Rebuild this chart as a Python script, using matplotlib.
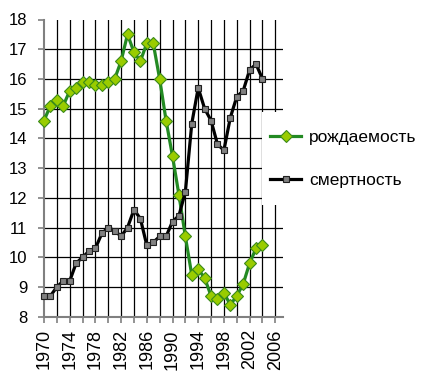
import matplotlib
matplotlib.use("Agg")
import matplotlib.pyplot as plt
from matplotlib.patches import Rectangle

years = list(range(1970, 2005))
birth = [14.6, 15.1, 15.3, 15.1, 15.6, 15.7, 15.9, 15.9, 15.8, 15.8, 15.9, 16.0,
         16.6, 17.5, 16.9, 16.6, 17.2, 17.2, 16.0, 14.6, 13.4, 12.1, 10.7, 9.4,
         9.6, 9.3, 8.7, 8.6, 8.8, 8.4, 8.7, 9.1, 9.8, 10.3, 10.4]
death = [8.7, 8.7, 9.0, 9.2, 9.2, 9.8, 10.0, 10.2, 10.3, 10.8, 11.0, 10.9,
         10.7, 11.0, 11.6, 11.3, 10.4, 10.5, 10.7, 10.7, 11.2, 11.4, 12.2, 14.5,
         15.7, 15.0, 14.6, 13.8, 13.6, 14.7, 15.4, 15.6, 16.3, 16.5, 16.0]
birth_label = "рождаемость"
death_label = "смертность"
xticks = list(range(1970, 2007, 2))
xlabel_years = list(range(1970, 2007, 4))
yticks = list(range(8, 19))

plt.rcParams['font.family'] = ['Liberation Sans', 'DejaVu Sans']

W, H = 440, 378
fig = plt.figure(figsize=(W / 100, H / 100), dpi=100)
ax = fig.add_axes([44 / W, 1 - 316.7 / H, (282.7 - 44) / W, (316.7 - 19.5) / H])

ax.set_xlim(1970, 2007.15)
ax.set_ylim(8, 18)

# grid
for x in xticks[1:]:
    ax.axvline(x, color='black', lw=0.9, zorder=1)
for y in yticks[1:-1]:
    ax.axhline(y, color='black', lw=0.9, zorder=1)

ax.plot(years, birth, color='#238a23', lw=2.3, marker='D', markersize=6,
        markerfacecolor='#99cc00', markeredgecolor='#3a8a1a', markeredgewidth=0.8,
        label=birth_label, zorder=3, clip_on=False)
ax.plot(years, death, color='black', lw=2.3, marker='s', markersize=5,
        markerfacecolor='#808080', markeredgecolor='#202020', markeredgewidth=0.8,
        label=death_label, zorder=4, clip_on=False)

for s in ['top', 'right']:
    ax.spines[s].set_visible(False)
for s in ['left', 'bottom']:
    ax.spines[s].set_color('#808080')
    ax.spines[s].set_linewidth(1.5)

ax.set_xticks(xticks)
ax.set_xticklabels([str(x) if x in xlabel_years else '' for x in xticks],
                   rotation=90, fontsize=13)
ax.set_yticks(yticks)
ax.set_yticklabels([str(y) for y in yticks], fontsize=12)
ax.tick_params(axis='x', direction='out', length=4, width=1.2, color='#808080', pad=5)
ax.tick_params(axis='y', direction='out', length=4, width=1.2, color='#808080', pad=8)

# white legend box over the plot area
rect = Rectangle((262 / W, 1 - 205 / H), (W - 262) / W, (205 - 112) / H,
                 transform=fig.transFigure, facecolor='white', edgecolor='none', zorder=5)
fig.add_artist(rect)

leg = fig.legend(loc='center left', bbox_to_anchor=(270 / W, 1 - 159 / H),
                 frameon=False, fontsize=12.5, handlelength=1.8, handletextpad=0.45,
                 labelspacing=1.6, borderpad=0, borderaxespad=0)
leg.set_zorder(6)

fig.savefig('out.png', dpi=100)
